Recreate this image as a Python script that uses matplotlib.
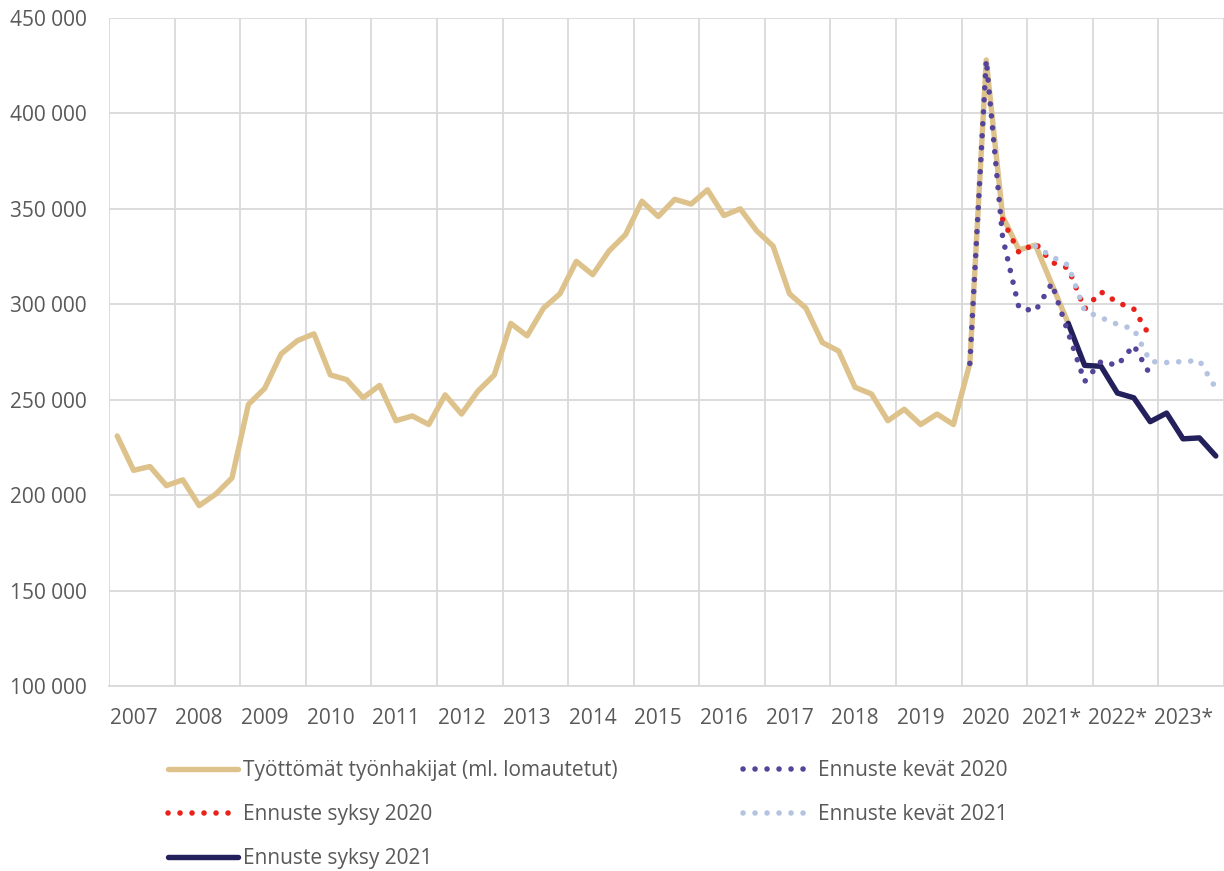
import matplotlib.pyplot as plt
import numpy as np

plt.rcParams['font.family'] = ['Open Sans', 'DejaVu Sans']

# Quarterly data, 2007 Q1 .. 2023 Q4 (68 quarters)
years = ['2007', '2008', '2009', '2010', '2011', '2012', '2013', '2014', '2015',
         '2016', '2017', '2018', '2019', '2020', '2021*', '2022*', '2023*']
n_quarters = 68

# Työttömät työnhakijat (ml. lomautetut), 2007 Q1 .. 2021 Q3
actual = [231000, 213000, 215000, 205000, 208000, 194500, 200500, 209000,
          247500, 256000, 274000, 281000, 284500, 263000, 260500, 251000,
          257500, 239000, 241500, 237000, 252500, 242500, 254500, 263000,
          290000, 283500, 298000, 305500, 322500, 315500, 328000, 336500,
          354000, 346000, 355000, 352500, 360000, 346500, 350000, 338500,
          330500, 305500, 298000, 280000, 275500, 256500, 253000, 239000,
          245000, 237000, 242500, 237000, 269000, 428000, 346000, 328500,
          331000, 310500, 290000]

# forecasts: (first quarter index, values)
spring2020_start = 52
spring2020 = [269000, 428000, 335000, 298000, 296500, 311000, 285000,
              259500, 270000, 268000, 278500, 263000]
autumn2020_start = 54
autumn2020 = [344500, 327000, 332000, 322000, 319000, 297500, 306500,
              301000, 297500, 283000]
spring2021_start = 56
spring2021 = [330500, 325000, 320500, 296500, 293000, 289500, 287000,
              270000, 269500, 270000, 270500, 256000]
autumn2021_start = 58
autumn2021 = [290000, 268000, 267500, 253500, 251000, 238500, 243000,
              229500, 230000, 220500]


def idx(start, values):
    return np.arange(start, start + len(values))


fig = plt.figure(figsize=(12.24, 8.71), dpi=100)
ax = fig.add_axes([109 / 1224, 1 - 686 / 871, 1 - 109 / 1224, 668 / 871])

dot = (0, (0.01, 2.15))
dot_lw = 4.0
l_act, = ax.plot(idx(0, actual), actual, color='#DEC28C', lw=3.9,
                 solid_capstyle='round', solid_joinstyle='round', zorder=2,
                 label='Työttömät työnhakijat (ml. lomautetut)')
l_a21, = ax.plot(idx(autumn2021_start, autumn2021), autumn2021, color='#23205C',
                 lw=3.9, solid_capstyle='round', solid_joinstyle='round', zorder=3,
                 label='Ennuste syksy 2021')
l_a20, = ax.plot(idx(autumn2020_start, autumn2020), autumn2020, color='#E8221B',
                 lw=dot_lw, ls=dot, dash_capstyle='round', zorder=4,
                 label='Ennuste syksy 2020')
l_s21, = ax.plot(idx(spring2021_start, spring2021), spring2021, color='#B4C3E2',
                 lw=dot_lw, ls=dot, dash_capstyle='round', zorder=5,
                 label='Ennuste kevät 2021')
l_s20, = ax.plot(idx(spring2020_start, spring2020), spring2020, color='#54449A',
                 lw=dot_lw, ls=dot, dash_capstyle='round', zorder=6,
                 label='Ennuste kevät 2020')

ax.set_xlim(-0.5, n_quarters - 0.5)
ax.set_ylim(100000, 450000)

year_edges = np.arange(-0.5, n_quarters, 4)
ax.set_xticks(year_edges, labels=[''] * len(year_edges))
ax.set_xticks(np.arange(1, n_quarters, 4), labels=years, minor=True)
yt = np.arange(100000, 450001, 50000)
ax.set_yticks(yt, labels=[f'{v:,}'.replace(',', ' ') for v in yt])

ax.tick_params(which='both', length=0, labelsize=15, labelcolor='#595959')
ax.tick_params(axis='x', which='minor', pad=16)
ax.tick_params(axis='y', pad=16)
ax.grid(True, which='major', color='#D9D9D9', lw=1.3)
ax.set_axisbelow(True)
for s in ['top', 'right', 'left']:
    ax.spines[s].set_visible(False)
ax.spines['bottom'].set_color('#D9D9D9')
ax.spines['bottom'].set_linewidth(1.3)

handles = [l_act, l_a20, l_a21, l_s20, l_s21]
fig.legend(handles=handles, labels=[h.get_label() for h in handles],
           ncol=2, loc='upper left', bbox_to_anchor=(168 / 1224, 1 - 760 / 871),
           frameon=False, fontsize=15, labelcolor='#595959',
           handlelength=3.35, handletextpad=0.25, columnspacing=6.0,
           labelspacing=1.1, borderpad=0, borderaxespad=0)

fig.savefig('out.png', dpi=100)
